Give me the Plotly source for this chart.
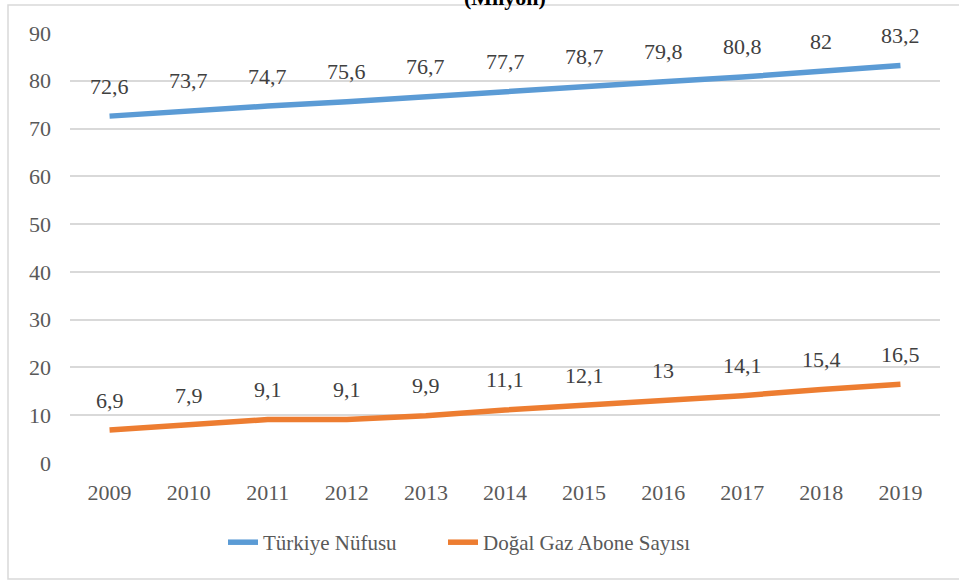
import plotly.graph_objects as go

years = ["2009", "2010", "2011", "2012", "2013", "2014", "2015", "2016", "2017", "2018", "2019"]
nufus = [72.6, 73.7, 74.7, 75.6, 76.7, 77.7, 78.7, 79.8, 80.8, 82, 83.2]
abone = [6.9, 7.9, 9.1, 9.1, 9.9, 11.1, 12.1, 13, 14.1, 15.4, 16.5]
y_ticks = [0, 10, 20, 30, 40, 50, 60, 70, 80, 90]

FONT = "Liberation Serif"
BLUE = "#5B9BD5"
ORANGE = "#ED7D31"


def fmt(v):
    return ("%g" % v).replace(".", ",")


fig = go.Figure()
fig.add_trace(go.Scatter(x=years, y=nufus, mode="lines", name="Türkiye Nüfusu",
                         line=dict(color=BLUE, width=5.5), legend="legend"))
fig.add_trace(go.Scatter(x=years, y=abone, mode="lines", name="Doğal Gaz Abone Sayısı",
                         line=dict(color=ORANGE, width=5.5), legend="legend2"))

ann = []
for series in (nufus, abone):
    for i, v in enumerate(series):
        ann.append(dict(x=i, y=v, xref="x", yref="y", text=fmt(v), showarrow=False,
                        yshift=30, font=dict(family=FONT, size=22, color="#404040")))
ann.append(dict(x=0.5, y=1 + 36 / 430, xref="paper", yref="paper", text="<b>(Milyon)</b>",
                showarrow=False, yanchor="middle",
                font=dict(family=FONT, size=22, color="#000000")))

legend_style = dict(orientation="h", y=-0.185, xanchor="left", yanchor="middle",
                    font=dict(family=FONT, size=21, color="#595959"),
                    bgcolor="rgba(0,0,0,0)")

fig.update_layout(
    width=959, height=581,
    margin=dict(l=70, r=19, t=33, b=118),
    paper_bgcolor="white", plot_bgcolor="white",
    font=dict(family=FONT, size=22, color="#595959"),
    showlegend=True,
    legend=dict(x=(223 - 70) / 870, **legend_style),
    legend2=dict(x=(443 - 70) / 870, **legend_style),
    annotations=ann,
    shapes=[dict(type="rect", xref="paper", yref="paper",
                 x0=(8 - 70) / 870, x1=(962 - 70) / 870,
                 y0=(463 - 579) / 430, y1=1 + 28 / 430,
                 line=dict(color="#D9D9D9", width=1.5), layer="below")],
)
fig.update_xaxes(type="category", range=[-0.5, 10.5], showgrid=False, showline=False,
                 zeroline=False, ticks="", ticklabelstandoff=14,
                 tickfont=dict(family=FONT, size=22, color="#595959"))
fig.update_yaxes(range=[0, 90], tickvals=y_ticks, showgrid=True, gridcolor="#D9D9D9",
                 gridwidth=1.5, zeroline=False, showline=False, ticks="",
                 ticklabelstandoff=18,
                 tickfont=dict(family=FONT, size=22, color="#595959"))

fig.write_html("out.html", config={"displayModeBar": False},
               post_script="document.body.style.margin='0';")
